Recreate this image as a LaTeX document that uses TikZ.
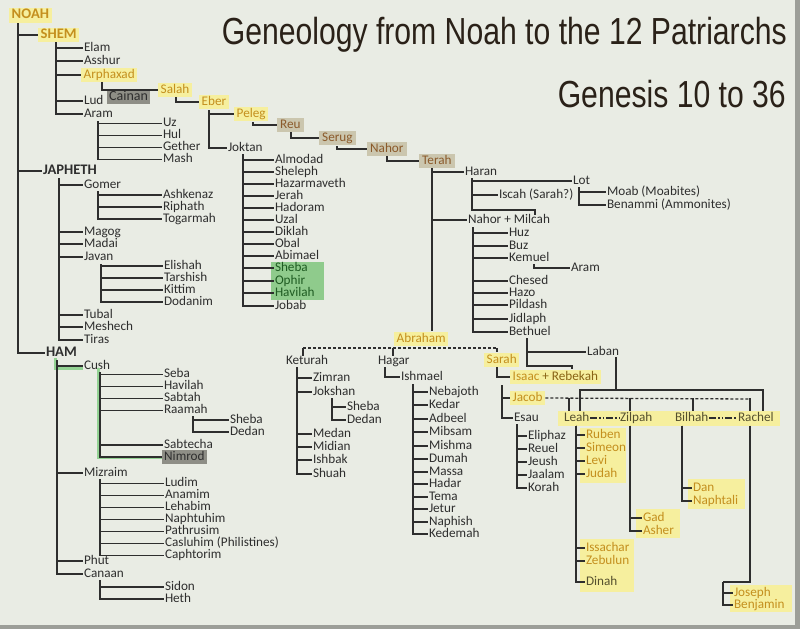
\documentclass[tikz,border=0pt]{standalone}
\usepackage{fontspec}
\setmainfont{Carlito}
\newfontfamily\titlefont[FakeStretch=0.8]{Liberation Sans}
\usetikzlibrary{calc}
\definecolor{Paper}{HTML}{E9ECE4}
\definecolor{Ink}{HTML}{2E2E2E}
\definecolor{Hilite}{HTML}{F6EF9E}
\definecolor{Gold}{HTML}{C48F1E}
\definecolor{Tan}{HTML}{CBC6AE}
\definecolor{Umber}{HTML}{8B5A2B}
\definecolor{Slate}{HTML}{8E8E86}
\definecolor{Moss}{HTML}{8FCB8C}
\definecolor{Forest}{HTML}{1F5C22}
\definecolor{Mint}{HTML}{93D293}
\definecolor{Olive}{HTML}{55502E}
\definecolor{Title}{HTML}{2A2118}
\definecolor{Frame}{HTML}{9C9E98}

\begin{document}
\begin{tikzpicture}[x=1pt,y=-1pt,
    who/.style={anchor=west,inner xsep=0.8pt,inner ysep=0pt,text height=8.6pt,
      text depth=1.8pt,text=Ink,font=\fontsize{13.2}{14}\selectfont},
    chief/.style={who,font=\fontsize{14.6}{15}\selectfont\bfseries},
    heir/.style={fill=Hilite,text=Gold,inner xsep=2.5pt,inner ysep=2.2pt},
    elder/.style={fill=Tan,text=Umber,inner xsep=3pt,inner ysep=2.2pt},
    shade/.style={fill=Slate,inner xsep=2pt,inner ysep=2.2pt},
    banner/.style={anchor=base east,inner sep=0,text=Title,
      font=\titlefont\fontsize{37.7}{40}\selectfont},
    link/.style={draw=Ink,line width=1.3pt},
    wed/.style={link,dash pattern=on 3pt off 2pt},
    kin/.style={link,dash pattern=on 7pt off 2pt on 1.5pt off 2pt on 1.5pt off 2pt},
    trail/.style={draw=Mint,line width=3pt}]

  % page
  \fill[Paper] (0,0) rectangle (800,629);
  \fill[Frame] (795,0) rectangle (800,629);
  \fill[Frame] (0,625) rectangle (800,629);
  \useasboundingbox (0,0) rectangle (800,629);

  \node[banner] (title) at (787,44) {Geneology from Noah to the 12 Patriarchs};
  \node[banner] (subtitle) at (786,107) {Genesis 10 to 36};

  % highlight bands
  \fill[Moss] (271,262) rectangle (324,300);
  \fill[Hilite] (558,410.5) rectangle (780,425.5);
  \fill[Hilite] (580,428) rectangle (626,483);
  \fill[Hilite] (580,539) rectangle (634,592);
  \fill[Hilite] (636,509) rectangle (680,538);
  \fill[Hilite] (688,479) rectangle (745,509);
  \fill[Hilite] (730,585) rectangle (792,612);

  % Noah and his sons
  \node[chief,heir] (noah) at (9,15.5) {NOAH};
  \node[chief,heir] (shem) at (38,35) {SHEM};
  \node[chief] (japheth) at (42,171) {JAPHETH};
  \node[chief] (ham) at (45,353) {HAM};
  \coordinate (noahT) at (18,23);
  \foreach \s in {shem,japheth,ham} \draw[link] (noahT) |- (\s.west);

  % Shem
  \node[who] (elam) at (83,48) {Elam};
  \node[who] (asshur) at (83,61) {Asshur};
  \node[who,heir] (arphaxad) at (81,75) {Arphaxad};
  \node[who] (lud) at (83,101) {Lud};
  \node[who] (aram) at (83,114) {Aram};
  \coordinate (shemT) at (56,42);
  \foreach \s in {elam,asshur,arphaxad,lud,aram} \draw[link] (shemT) |- (\s.west);

  \foreach \k/\n/\y in {uz/Uz/123.5,hul/Hul/135.5,gether/Gether/147.5,mash/Mash/159.5}
    \node[who] (\k) at (162,\y) {\n};
  \coordinate (aramT) at (98,121);
  \foreach \s in {uz,hul,gether,mash} \draw[link] (aramT) |- (\s.west);

  % line of the promise
  \node[who,shade,font=\fontsize{14}{15}\selectfont] (cainan) at (107,97) {Cainan};
  \node[who,heir] (salah) at (158,90) {Salah};
  \node[who,heir] (eber) at (199,102) {Eber};
  \node[who,heir] (peleg) at (234,114) {Peleg};
  \node[who,elder] (reu) at (277,125) {Reu};
  \node[who,elder] (serug) at (319,138) {Serug};
  \node[who,elder] (nahor) at (367,149) {Nahor};
  \node[who,elder] (terah) at (419,161) {Terah};
  \node[who] (joktan) at (227,148) {Joktan};
  \coordinate (arphT) at (102,82);
  \coordinate (salahT) at (176,97);
  \coordinate (eberT) at (209,110);
  \coordinate (pelegT) at (253,122);
  \coordinate (reuT) at (291,132);
  \coordinate (serugT) at (337,146);
  \coordinate (nahorT) at (387,156);
  \draw[link] (arphT) |- (salah.west);
  \draw[link] (salahT) |- (eber.west);
  \draw[link] (eberT) |- (peleg.west);
  \draw[link] (eberT) |- (joktan.west);
  \draw[link] (pelegT) |- (reu.west);
  \draw[link] (reuT) |- (serug.west);
  \draw[link] (serugT) |- (nahor.west);
  \draw[link] (nahorT) |- (terah.west);

  % Joktan
  \foreach \k/\n/\y in {almodad/Almodad/160,sheleph/Sheleph/172,hazarmaveth/Hazarmaveth/184,
      jerah/Jerah/196,hadoram/Hadoram/208,uzal/Uzal/220,diklah/Diklah/232,obal/Obal/244,
      abimael/Abimael/256,jobab/Jobab/306}
    \node[who] (\k) at (274,\y) {\n};
  \foreach \k/\n/\y in {shebaJ/Sheba/268,ophir/Ophir/281,havilahJ/Havilah/293}
    \node[who,text=Forest] (\k) at (274,\y) {\n};
  \coordinate (joktanT) at (243,154);
  \foreach \s in {almodad,sheleph,hazarmaveth,jerah,hadoram,uzal,diklah,obal,abimael,
      shebaJ,ophir,havilahJ,jobab}
    \draw[link] (joktanT) |- (\s.west);

  % Japheth
  \foreach \k/\n/\y in {gomer/Gomer/185,magog/Magog/232,madai/Madai/244,javan/Javan/257,
      tubal/Tubal/315,meshech/Meshech/327,tiras/Tiras/340}
    \node[who] (\k) at (83,\y) {\n};
  \coordinate (japhT) at (59,178);
  \foreach \s in {gomer,magog,madai,javan,tubal,meshech,tiras} \draw[link] (japhT) |- (\s.west);
  \foreach \k/\n/\y in {ashkenaz/Ashkenaz/195,riphath/Riphath/207,togarmah/Togarmah/219}
    \node[who] (\k) at (162,\y) {\n};
  \coordinate (gomerT) at (98,191);
  \foreach \s in {ashkenaz,riphath,togarmah} \draw[link] (gomerT) |- (\s.west);
  \foreach \k/\n/\y in {elishah/Elishah/266,tarshish/Tarshish/278,kittim/Kittim/290,dodanim/Dodanim/302}
    \node[who] (\k) at (163,\y) {\n};
  \coordinate (javanT) at (101,264);
  \foreach \s in {elishah,tarshish,kittim,dodanim} \draw[link] (javanT) |- (\s.west);

  % Ham
  \foreach \k/\n/\y in {cush/Cush/366,mizraim/Mizraim/473,phut/Phut/561,canaan/Canaan/574}
    \node[who] (\k) at (83,\y) {\n};
  \foreach \k/\n/\y in {seba/Seba/374.5,havilahC/Havilah/386.5,sabtah/Sabtah/398.5,raamah/Raamah/410.5,
      sabtecha/Sabtecha/445}
    \node[who] (\k) at (163,\y) {\n};
  \node[who,shade] (nimrod) at (162,457) {Nimrod};
  \coordinate (hamT) at (57,360);
  \coordinate (cushT) at (100,372);
  \draw[trail] ($(hamT)+(-2,-2)$) |- ($(cush.west)+(0,2)$);
  \draw[trail] ($(cushT)+(-2,-4)$) |- (nimrod.west);
  \foreach \s in {cush,mizraim,phut,canaan} \draw[link] (hamT) |- (\s.west);
  \foreach \s in {seba,havilahC,sabtah,raamah,sabtecha,nimrod} \draw[link] (cushT) |- (\s.west);
  \node[who] (shebaR) at (229,420) {Sheba};
  \node[who] (dedanR) at (229,432) {Dedan};
  \coordinate (raamahT) at (193,416);
  \foreach \s in {shebaR,dedanR} \draw[link] (raamahT) |- (\s.west);
  \foreach \k/\n/\y in {ludim/Ludim/483.5,anamim/Anamim/495.5,lehabim/Lehabim/507.5,
      naphtuhim/Naphtuhim/519.5,pathrusim/Pathrusim/531.5,casluhim/Casluhim (Philistines)/543.5,
      caphtorim/Caphtorim/555.5}
    \node[who] (\k) at (164,\y) {\n};
  \coordinate (mizT) at (100,479);
  \foreach \s in {ludim,anamim,lehabim,naphtuhim,pathrusim,casluhim,caphtorim}
    \draw[link] (mizT) |- (\s.west);
  \node[who] (sidon) at (164,587) {Sidon};
  \node[who] (heth) at (164,599) {Heth};
  \coordinate (canT) at (100,580);
  \foreach \s in {sidon,heth} \draw[link] (canT) |- (\s.west);

  % Terah
  \node[who] (haran) at (464,172) {Haran};
  \node[who] (milcah) at (467,220) {Nahor + Milcah};
  \node[who,heir] (abraham) at (394,339) {Abraham};
  \coordinate (terahT) at (432,168);
  \draw[link] (terahT) |- (haran.west);
  \draw[link] (terahT) |- (milcah.west);
  \draw[link] (terahT) -- (terahT |- abraham.north);

  \node[who] (lot) at (572,181) {Lot};
  \node[who] (iscah) at (498,195) {Iscah (Sarah?)};
  \coordinate (haranT) at (472,178);
  \coordinate (milcTop) at (535,215);
  \draw[link] (haranT) |- (lot.west);
  \draw[link] (haranT) |- (iscah.west);
  \draw[link] (haranT) |- ($(milcTop)+(0,-5)$) -- (milcTop);
  \node[who] (moab) at (606,192) {Moab (Moabites)};
  \node[who] (benammi) at (606,205) {Benammi (Ammonites)};
  \coordinate (lotT) at (579,187);
  \foreach \s in {moab,benammi} \draw[link] (lotT) |- (\s.west);

  \foreach \k/\n/\y in {huz/Huz/233,buz/Buz/246,kemuel/Kemuel/258,chesed/Chesed/281,
      hazo/Hazo/293,pildash/Pildash/305,jidlaph/Jidlaph/319,bethuel/Bethuel/332}
    \node[who] (\k) at (508,\y) {\n};
  \coordinate (milT) at (473,227);
  \foreach \s in {huz,buz,kemuel,chesed,hazo,pildash,jidlaph,bethuel} \draw[link] (milT) |- (\s.west);
  \node[who] (aramK) at (570,268) {Aram};
  \coordinate (kemT) at (534,264);
  \draw[link] (kemT) |- (aramK.west);
  \node[who] (laban) at (586,352) {Laban};
  \coordinate (bethT) at (527,338);
  \coordinate (rebTop) at (572,369);
  \draw[link] (bethT) |- (laban.west);
  \draw[link] (bethT) |- ($(rebTop)+(0,-3)$) -- (rebTop);

  % Abraham
  \node[who] (keturah) at (285,361) {Keturah};
  \node[who] (hagar) at (377,361) {Hagar};
  \node[who,heir] (sarah) at (484,360) {Sarah};
  \coordinate (wL) at (303,348);
  \coordinate (wH) at (393,348);
  \coordinate (wR) at (497,348);
  \draw[wed] (wL) -- (wR);
  \draw[link] (wL) -- (wL |- keturah.north);
  \draw[link] (wH) -- (wH |- hagar.north);
  \draw[link] (wR) -- (wR |- sarah.north);

  \foreach \k/\n/\y in {zimran/Zimran/378,jokshan/Jokshan/392,medan/Medan/434,
      midian/Midian/447,ishbak/Ishbak/460,shuah/Shuah/474}
    \node[who] (\k) at (312,\y) {\n};
  \coordinate (ketT) at (297,367);
  \foreach \s in {zimran,jokshan,medan,midian,ishbak,shuah} \draw[link] (ketT) |- (\s.west);
  \node[who] (shebaK) at (346,407) {Sheba};
  \node[who] (dedanK) at (346,420) {Dedan};
  \coordinate (jokT) at (332,398);
  \foreach \s in {shebaK,dedanK} \draw[link] (jokT) |- (\s.west);

  \node[who] (ishmael) at (400,377) {Ishmael};
  \coordinate (hagT) at (385,367);
  \draw[link] (hagT) |- (ishmael.west);
  \foreach \k/\n/\y in {nebajoth/Nebajoth/392,kedar/Kedar/405,adbeel/Adbeel/419,mibsam/Mibsam/432,
      mishma/Mishma/446,dumah/Dumah/459,massa/Massa/472,hadar/Hadar/484,tema/Tema/497,
      jetur/Jetur/509,naphish/Naphish/522,kedemah/Kedemah/534}
    \node[who] (\k) at (428,\y) {\n};
  \coordinate (ishT) at (413,384);
  \foreach \s in {nebajoth,kedar,adbeel,mibsam,mishma,dumah,massa,hadar,tema,jetur,naphish,kedemah}
    \draw[link] (ishT) |- (\s.west);

  % Isaac
  \node[who,heir] (isaac) at (510,377) {Isaac {\color{Gold!70!black}+ Rebekah}};
  \coordinate (sarahT) at (497,367);
  \draw[link] (sarahT) |- (isaac.west);
  \node[who,heir] (jacob) at (510,398) {Jacob};
  \node[who] (esau) at (513,418) {Esau};
  \coordinate (isaacT) at (502,385);
  \foreach \s in {jacob,esau} \draw[link] (isaacT) |- (\s.west);
  \foreach \k/\n/\y in {eliphaz/Eliphaz/436,reuel/Reuel/449,jeush/Jeush/462,jaalam/Jaalam/475,korah/Korah/488}
    \node[who] (\k) at (527,\y) {\n};
  \coordinate (esauT) at (517,424);
  \foreach \s in {eliphaz,reuel,jeush,jaalam,korah} \draw[link] (esauT) |- (\s.west);

  % Jacob's wives
  \node[who,text=Olive] (leah) at (563,418) {Leah};
  \node[who,text=Olive] (zilpah) at (619,418) {Zilpah};
  \node[who,text=Olive] (bilhah) at (674,418) {Bilhah};
  \node[who,text=Olive] (rachel) at (737,418) {Rachel};
  \coordinate (jR) at (750,399);
  \draw[wed] (jacob.east) -- (jR);
  \foreach \x/\w in {569/leah,630/zilpah,693/bilhah,750/rachel}
    \draw[link] (jacob.east -| \x,0) -- (\x,410.5);
  \coordinate (labD) at (616,390);
  \draw[link] (laban.south -| labD) -- (labD);
  \draw[link] (580,410.5) |- (labD) -| (763,410.5);
  \draw[kin] (leah.east) -- (zilpah.west);
  \draw[kin] (bilhah.east) -- (rachel.west);

  % the twelve
  \foreach \k/\n/\y in {ruben/Ruben/435,simeon/Simeon/448,levi/Levi/461,judah/Judah/474,
      issachar/Issachar/548,zebulun/Zebulun/561}
    \node[who,text=Gold] (\k) at (585,\y) {\n};
  \node[who,text=Olive] (dinah) at (585,582) {Dinah};
  \coordinate (leahT) at (576,425.5);
  \foreach \s in {ruben,simeon,levi,judah,issachar,zebulun,dinah} \draw[link] (leahT) |- (\s.west);

  \node[who,text=Gold] (gad) at (642,518) {Gad};
  \node[who,text=Gold] (asher) at (642,531) {Asher};
  \coordinate (zilT) at (630,425.5);
  \foreach \s in {gad,asher} \draw[link] (zilT) |- (\s.west);

  \node[who,text=Gold] (dan) at (692,488) {Dan};
  \node[who,text=Gold] (naphtali) at (692,501) {Naphtali};
  \coordinate (bilT) at (682,425.5);
  \foreach \s in {dan,naphtali} \draw[link] (bilT) |- (\s.west);

  \node[who,text=Gold] (joseph) at (733,593) {Joseph};
  \node[who,text=Gold] (benjamin) at (733,605) {Benjamin};
  \coordinate (rachT) at (750,425.5);
  \coordinate (josT) at (723,582);
  \draw[link] (rachT) |- (josT);
  \foreach \s in {joseph,benjamin} \draw[link] (josT) |- (\s.west);
\end{tikzpicture}
\end{document}
